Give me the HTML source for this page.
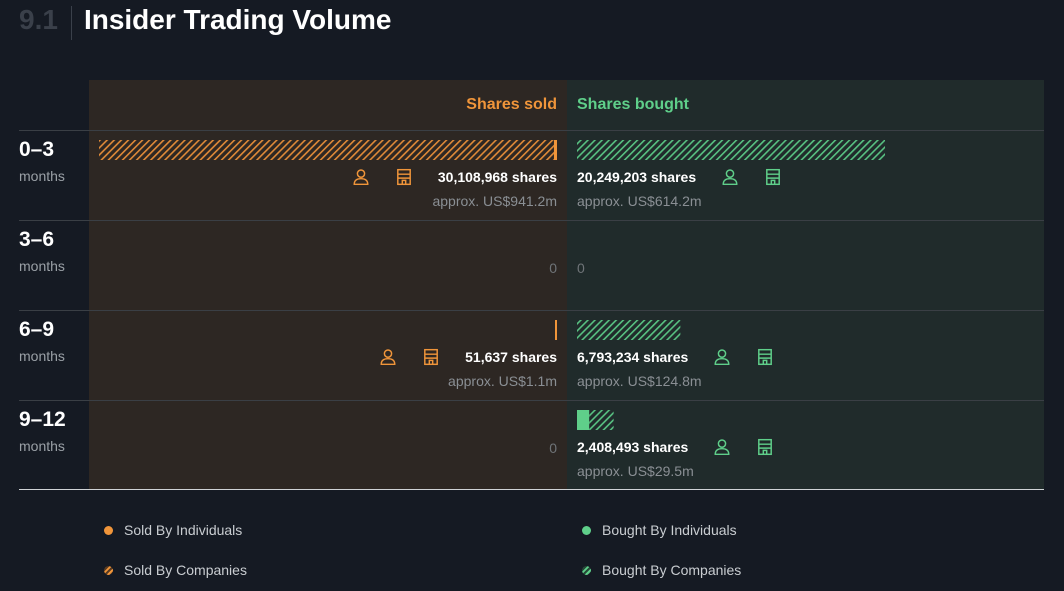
<!DOCTYPE html>
<html><head><meta charset="utf-8">
<style>
body{margin:0;width:1064px;height:591px;background:#151a23;font-family:"Liberation Sans",sans-serif;position:relative;overflow:hidden}
.abs{position:absolute}
.title{left:19px;top:4px;font-size:28px;font-weight:bold;color:#3a404a;white-space:nowrap}
.title .t{color:#fff;}
.sep{left:71px;top:6px;width:1px;height:34px;background:#3a404a}
.panel-s{left:89px;top:80px;width:478px;height:409px;background:#2d2723}
.panel-b{left:567px;top:80px;width:477px;height:409px;background:#202b2b}
.hdr{top:96px;font-size:16px;font-weight:bold}
.rowline{left:19px;width:1025px;height:1px;background:#3a3f45}
.rl{left:19px;color:#fff;font-weight:bold;font-size:21px}
.rl small{display:block;font-size:14px;color:#9aa0a6;font-weight:normal;margin-top:6px}
.info{font-size:14px;color:#fff;font-weight:bold;display:flex;align-items:center;gap:0;white-space:nowrap}
.sub{font-size:14px;color:#8a8f94}
.zero{font-size:14px;color:#6f7478}
.ic{width:18px;height:18px;display:inline-block}
.leg{font-size:14px;color:#c9cdd1}
.dot{width:9px;height:9px;border-radius:50%;display:inline-block}
</style></head><body>
<div class="abs title">9.1<span style="display:inline-block;width:26px"></span><span class="t">Insider Trading Volume</span></div>
<div class="abs sep"></div>
<div class="abs panel-s"></div>
<div class="abs panel-b"></div>
<div class="abs hdr" style="right:507px;color:#f0953a">Shares sold</div>
<div class="abs hdr" style="left:577px;color:#5fcf8a">Shares bought</div>
<svg width="0" height="0" style="position:absolute"><defs>
<pattern id="hs" width="5" height="5" patternUnits="userSpaceOnUse" patternTransform="rotate(45)"><rect width="1.6" height="5" fill="#e08a38"/></pattern>
<pattern id="hb" width="5" height="5" patternUnits="userSpaceOnUse" patternTransform="rotate(45)"><rect width="1.6" height="5" fill="#58c282"/></pattern>
</defs></svg>
<div id="rows"></div>
<div class="abs rowline" style="top:489px;background:#cfd3d6"></div>
<div class="abs leg" style="left:104px;top:522px"><span class="dot" style="background:#f0953a;margin-right:11px"></span>Sold By Individuals</div>
<div class="abs leg" style="left:104px;top:562px"><span class="dot" style="background:repeating-linear-gradient(135deg,#f0953a 0 2px,#5a3c22 2px 4px);margin-right:11px"></span>Sold By Companies</div>
<div class="abs leg" style="left:582px;top:522px"><span class="dot" style="background:#5fcf8a;margin-right:11px"></span>Bought By Individuals</div>
<div class="abs leg" style="left:582px;top:562px"><span class="dot" style="background:repeating-linear-gradient(135deg,#5fcf8a 0 2px,#264a38 2px 4px);margin-right:11px"></span>Bought By Companies</div>
<script>
const periods=["0–3","3–6","6–9","9–12"];
const soldInd=[200000,0,51637,0];
const soldCo=[29908968,0,0,0];
const boughtInd=[0,0,0,800000];
const boughtCo=[20249203,0,6793234,1608493];
const soldUsd=["941.2m","","1.1m",""];
const boughtUsd=["614.2m","","124.8m","29.5m"];
const PXM=458/30108968;
const x=v=>v*PXM;
const fmt=n=>n.toLocaleString("en-US");
function person(c){return `<svg class="ic" viewBox="0 0 16 16"><circle cx="8" cy="5" r="3.2" fill="none" stroke="${c}" stroke-width="1.3"/><path d="M2 14.5 Q2 9.5 8 9.5 Q14 9.5 14 14.5 Z" fill="none" stroke="${c}" stroke-width="1.3"/></svg>`}
function bldg(c){return `<svg class="ic" viewBox="0 0 16 16"><rect x="2.5" y="1.5" width="11" height="13" fill="none" stroke="${c}" stroke-width="1.3"/><path d="M2.5 5.5H13.5M2.5 9H13.5M6.5 14.5V11H9.5V14.5" fill="none" stroke="${c}" stroke-width="1.3"/></svg>`}
const root=document.getElementById('rows');
periods.forEach((p,i)=>{
  const top=130+i*90;
  const line=document.createElement('div');line.className='abs rowline';line.style.top=top+'px';
  
  
  root.appendChild(line);
  const lab=document.createElement('div');lab.className='abs rl';lab.style.top=(top+8)+'px';
  lab.innerHTML=p+'<small>months</small>';
  
  
  root.appendChild(lab);
  const sT=soldInd[i]+soldCo[i], bT=boughtInd[i]+boughtCo[i];
  const svg=document.createElementNS('http://www.w3.org/2000/svg','svg');
  svg.setAttribute('width','1064');svg.setAttribute('height','20');
  svg.style.cssText=`position:absolute;left:0;top:${top+10}px`;
  
  
  const mk=(x0,w,fill,name)=>{if(w<=0)return;const r=document.createElementNS(svg.namespaceURI,'rect');
    r.setAttribute('x',x0);r.setAttribute('y',0);r.setAttribute('width',Math.max(w,2));r.setAttribute('height',20);r.setAttribute('fill',fill);
    
    
    svg.appendChild(r);};
  const sEnd=557;
  mk(sEnd-x(sT),x(soldCo[i]),'url(#hs)','bar-sold-companies');
  mk(sEnd-Math.max(x(soldInd[i]),2),x(soldInd[i]),'#f0953a','bar-sold-individuals');
  mk(577,x(boughtInd[i]),'#5fcf8a','bar-bought-individuals');
  mk(577+x(boughtInd[i]),x(boughtCo[i]),'url(#hb)','bar-bought-companies');
  root.appendChild(svg);
  if(sT>0){
    const d=document.createElement('div');d.className='abs info';d.style.cssText=`right:507px;top:${top+38}px`;
    d.innerHTML=`${person('#f0953a')}<span style="width:25px"></span>${bldg('#f0953a')}<span style="width:25px"></span>${fmt(sT)} shares`;
    
    
    root.appendChild(d);
    const s=document.createElement('div');s.className='abs sub';s.style.cssText=`right:507px;top:${top+63}px`;s.textContent='approx. US$'+soldUsd[i];
    
    
    root.appendChild(s);
  } else {
    const z=document.createElement('div');z.className='abs zero';z.style.cssText=`right:507px;top:${top+40}px`;z.textContent='0';
    
    
    root.appendChild(z);
  }
  if(bT>0){
    const d=document.createElement('div');d.className='abs info';d.style.cssText=`left:577px;top:${top+38}px`;
    d.innerHTML=`${fmt(bT)} shares<span style="width:25px"></span>${person('#5fcf8a')}<span style="width:25px"></span>${bldg('#5fcf8a')}`;
    
    
    root.appendChild(d);
    const s=document.createElement('div');s.className='abs sub';s.style.cssText=`left:577px;top:${top+63}px`;s.textContent='approx. US$'+boughtUsd[i];
    
    
    root.appendChild(s);
  } else {
    const z=document.createElement('div');z.className='abs zero';z.style.cssText=`left:577px;top:${top+40}px`;z.textContent='0';
    
    
    root.appendChild(z);
  }
});
</script>
</body></html>
